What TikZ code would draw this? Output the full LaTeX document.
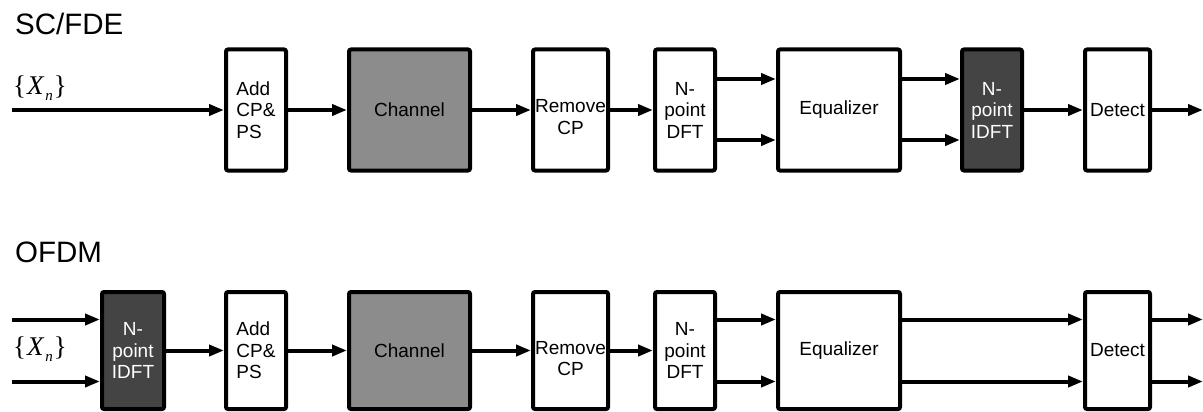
\documentclass[tikz,border=0pt]{standalone}
\usepackage{fontspec}
\setmainfont{Liberation Sans}
\newfontfamily\xserif{Liberation Serif}
\usetikzlibrary{arrows.meta}
\definecolor{chgray}{HTML}{8C8C8C}
\definecolor{dkgray}{HTML}{444444}
\newcommand{\xnsym}{\xserif\{\kern1pt\textit{X}\kern1pt\raisebox{-6pt}{\fontsize{15}{16}\selectfont\textit{n}}\kern1pt\}}
\begin{document}
\begin{tikzpicture}[x=1pt,y=-1pt,
  box/.style={draw, line width=4pt, rounded corners=2pt, inner sep=0pt, outer sep=2pt,
    font=\fontsize{19}{21.5}\selectfont, align=center},
  toprow/.style={box, minimum height=121pt},
  botrow/.style={box, minimum height=117pt},
  chan/.style={fill=chgray},
  idft/.style={fill=dkgray, text=white},
  boxtext/.style={font=\fontsize{19}{21.5}\selectfont, align=center, inner sep=0pt},
  title/.style={font=\fontsize{29.5}{32}\selectfont, anchor=base west, inner sep=0pt},
  sym/.style={font=\fontsize{27}{28}\selectfont, inner sep=0pt},
  arr/.style={line width=4pt, -{Triangle[length=15pt,width=11pt]}}]
\useasboundingbox (0,0) rectangle (1203,412);

% titles
\node[title] (t1) at (15,35) {SC/FDE};
\node[title] (t2) at (15,262) {OFDM};

% ---------- SC/FDE row ----------
\node[sym] (x1) at (40,88.5) {\xnsym};
\coordinate (in1) at (12,110);
\node[toprow, minimum width=60pt, align=left] (addT) at (256,110) {Add\\CP\&\\PS};
\node[toprow, chan, minimum width=121pt] (chT) at (409.5,110) {Channel};
\node[toprow, minimum width=75pt] (remT) at (570.5,110) {};
\node[boxtext] (remTt) at ([yshift=-7pt]remT.center) {Remove\\CP};
\node[toprow, minimum width=60pt] (dftT) at (685,110) {N-\\point\\DFT};
\node[toprow, minimum width=122pt] (eqT) at (839,110) {Equalizer};
\node[toprow, idft, minimum width=60pt] (idftT) at (992,110) {N-\\point\\IDFT};
\node[toprow, minimum width=65pt] (detT) at (1117.5,110) {Detect};
\coordinate (out1) at (1203,110);

\draw[arr] (in1) -- (addT.west);
\draw[arr] (addT) -- (chT);
\draw[arr] (chT) -- (remT);
\draw[arr] (remT) -- (dftT);
\draw[arr] ([yshift=31pt]dftT.east) -- ([yshift=31pt]eqT.west);
\draw[arr] ([yshift=-30pt]dftT.east) -- ([yshift=-30pt]eqT.west);
\draw[arr] ([yshift=31pt]eqT.east) -- ([yshift=31pt]idftT.west);
\draw[arr] ([yshift=-30pt]eqT.east) -- ([yshift=-30pt]idftT.west);
\draw[arr] (idftT) -- (detT);
\draw[arr] (detT.east) -- (out1);

% ---------- OFDM row ----------
\node[sym] (x2) at (40,349) {\xnsym};
\node[botrow, idft, minimum width=62pt] (idftB) at (133,350.5) {N-\\point\\IDFT};
\coordinate (in2a) at (12,319.5);
\coordinate (in2b) at (12,381.5);
\node[botrow, minimum width=60pt, align=left] (addB) at (256,350.5) {Add\\CP\&\\PS};
\node[botrow, chan, minimum width=121pt] (chB) at (409.5,350.5) {Channel};
\node[botrow, minimum width=75pt] (remB) at (570.5,350.5) {};
\node[boxtext] (remBt) at ([yshift=-8pt]remB.center) {Remove\\CP};
\node[botrow, minimum width=60pt] (dftB) at (685,350.5) {N-\\point\\DFT};
\node[botrow, minimum width=122pt] (eqB) at (839,350.5) {Equalizer};
\node[botrow, minimum width=65pt] (detB) at (1117.5,350.5) {Detect};
\coordinate (out2a) at (1203,319.5);
\coordinate (out2b) at (1203,381.5);

\draw[arr] (in2a) -- (idftB.west |- in2a);
\draw[arr] (in2b) -- (idftB.west |- in2b);
\draw[arr] (idftB) -- (addB);
\draw[arr] (addB) -- (chB);
\draw[arr] (chB) -- (remB);
\draw[arr] (remB) -- (dftB);
\draw[arr] ([yshift=31pt]dftB.east) -- ([yshift=31pt]eqB.west);
\draw[arr] ([yshift=-31pt]dftB.east) -- ([yshift=-31pt]eqB.west);
\draw[arr] ([yshift=31pt]eqB.east) -- ([yshift=31pt]detB.west);
\draw[arr] ([yshift=-31pt]eqB.east) -- ([yshift=-31pt]detB.west);
\draw[arr] (detB.east |- out2a) -- (out2a);
\draw[arr] (detB.east |- out2b) -- (out2b);
\end{tikzpicture}
\end{document}
